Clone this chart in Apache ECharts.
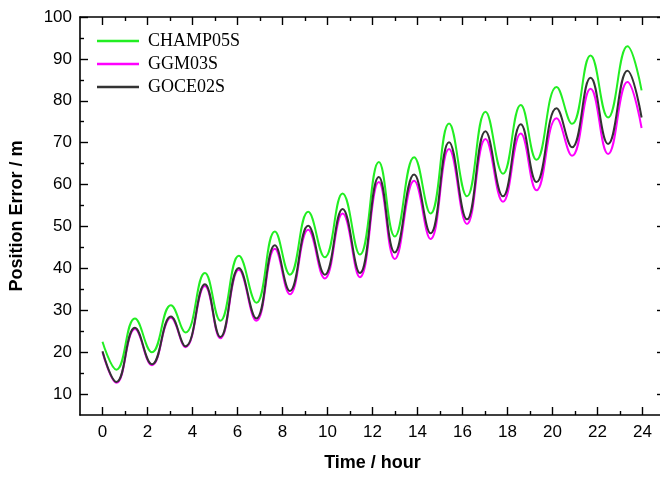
<!DOCTYPE html>
<html>
<head>
<meta charset="utf-8">
<script src="https://cdn.jsdelivr.net/npm/echarts@6/dist/echarts.min.js"></script>
<style>html,body{margin:0;padding:0;background:#fff;overflow:hidden}#c{width:670px;height:477px}</style>
</head>
<body>
<div id="c"></div>
<script>
// time (hour) of the readings: start, troughs and crests, end
const hours = [0, 0.62, 1.44, 2.2, 3.04, 3.69, 4.55, 5.24, 6.06, 6.84, 7.66, 8.33, 9.14, 9.88, 10.67, 11.44, 12.28, 12.99, 13.85, 14.58, 15.4, 16.2, 17.02, 17.8, 18.59, 19.29, 20.18, 20.87, 21.69, 22.47, 23.33, 23.96];
const champ05s = [22.5, 15.8, 28.05, 20.0, 31.2, 24.7, 38.9, 27.5, 43.0, 31.8, 48.8, 38.5, 53.5, 42.65, 57.9, 43.3, 65.4, 47.6, 66.55, 53.1, 74.6, 57.2, 77.4, 62.6, 79.0, 65.9, 83.3, 74.5, 90.8, 76.0, 93.0, 82.5];
const ggm03s  = [20.0, 12.7, 25.5, 16.9, 28.2, 21.2, 35.8, 23.3, 39.7, 27.5, 44.7, 33.8, 49.2, 37.6, 53.1, 37.9, 60.6, 42.25, 60.9, 47.0, 68.5, 50.6, 70.9, 55.9, 72.2, 58.65, 75.85, 66.9, 82.9, 67.3, 84.5, 73.5];
const goce02s = [20.2, 12.9, 25.8, 17.1, 28.5, 21.4, 36.2, 23.6, 40.1, 28.05, 45.5, 34.6, 50.2, 38.5, 54.2, 38.9, 61.8, 43.8, 62.4, 48.4, 70.1, 51.7, 72.7, 57.2, 74.4, 60.6, 78.2, 68.9, 85.5, 69.7, 87.2, 76.0];
const seriesNames = ['CHAMP05S', 'GGM03S', 'GOCE02S'];
const xMajor = [0, 2, 4, 6, 8, 10, 12, 14, 16, 18, 20, 22, 24];
const xMinor = [1, 3, 5, 7, 9, 11, 13, 15, 17, 19, 21, 23];
const yMajor = [10, 20, 30, 40, 50, 60, 70, 80, 90, 100];
const yMinor = [15, 25, 35, 45, 55, 65, 75, 85, 95];

const pair = arr => hours.map((h, i) => [h, arr[i]]);
const lineStyle = {color: '#000', width: 1.6};
const font = 'Liberation Sans, Arial, sans-serif';

function xAx(pos, ticks, len, labels, showLine) {
  return {
    type: 'value', position: pos, min: -1, max: 25,
    axisLine: {show: showLine, onZero: false, lineStyle},
    axisTick: {show: true, inside: true, length: len, customValues: ticks, lineStyle: {color: '#000', width: 1.4}},
    axisLabel: labels ? {show: true, customValues: ticks, color: '#000', fontSize: 17, fontFamily: font, margin: 9} : {show: false},
    splitLine: {show: false}
  };
}
function yAx(pos, ticks, len, labels, showLine) {
  return {
    type: 'value', position: pos, min: 5, max: 100,
    axisLine: {show: showLine, onZero: false, lineStyle},
    axisTick: {show: true, inside: true, length: len, customValues: ticks, lineStyle: {color: '#000', width: 1.4}},
    axisLabel: labels ? {show: true, customValues: ticks, color: '#000', fontSize: 17, fontFamily: font, margin: 8} : {show: false},
    splitLine: {show: false}
  };
}

const xAxes = [xAx('bottom', xMajor, 8, true, true), xAx('top', xMajor, 8, false, true), xAx('bottom', xMinor, 4, false, false), xAx('top', xMinor, 4, false, false)];
xAxes[0].name = 'Time / hour';
xAxes[0].nameLocation = 'middle';
xAxes[0].nameGap = 39;
xAxes[0].nameTextStyle = {fontSize: 18, fontWeight: 'bold', fontFamily: font, color: '#000'};
const yAxes = [yAx('left', yMajor, 8, true, true), yAx('right', yMajor, 8, false, true), yAx('left', yMinor, 4, false, false), yAx('right', yMinor, 4, false, false)];
yAxes[0].name = 'Position Error / m';
yAxes[0].nameLocation = 'middle';
yAxes[0].nameGap = 54;
yAxes[0].nameTextStyle = {fontSize: 18, fontWeight: 'bold', fontFamily: font, color: '#000'};

const colors = ['#22ee22', '#ff00ff', '#333333'];
const datas = [champ05s, ggm03s, goce02s];

const chart = echarts.init(document.getElementById('c'), null, {renderer: 'canvas', width: 670, height: 477});
chart.setOption({
  animation: false,
  backgroundColor: '#fff',
  grid: {left: 80, right: 5, top: 17, bottom: 58, containLabel: false},
  legend: {
    orient: 'vertical', left: 97, top: 32, padding: 0,
    itemWidth: 42, itemHeight: 2.5, itemGap: 5, icon: 'rect',
    data: seriesNames,
    textStyle: {fontFamily: 'Liberation Serif, Times New Roman, serif', fontSize: 18, lineHeight: 14, color: '#000', padding: [0, 0, 0, 4]}
  },
  xAxis: xAxes,
  yAxis: yAxes,
  series: datas.map((d, i) => ({
    name: seriesNames[i], type: 'line', xAxisIndex: 0, yAxisIndex: 0,
    data: pair(d), smooth: 0.45, symbol: 'none', showSymbol: false,
    lineStyle: {color: colors[i], width: 2}, itemStyle: {color: colors[i]}, z: 2 + i
  }))
});
</script>
</body>
</html>
